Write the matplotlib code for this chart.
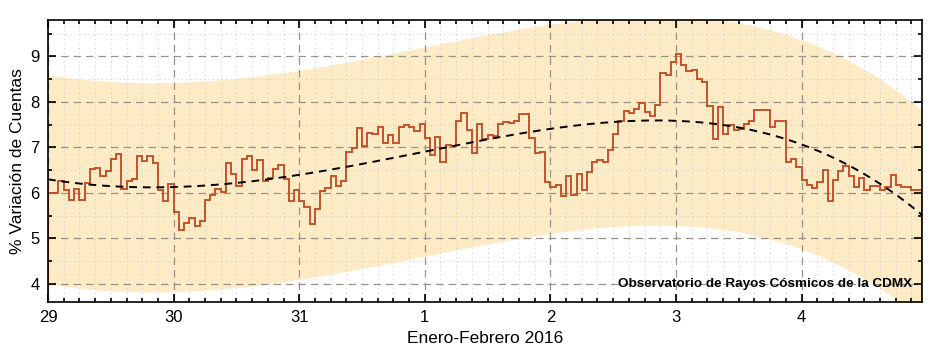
import matplotlib

matplotlib.use("Agg")
import matplotlib.pyplot as plt
import numpy as np
from matplotlib.ticker import MultipleLocator

plt.rcParams["font.family"] = ["Liberation Sans", "DejaVu Sans"]

# variacion horaria (%), desde 29 ene 00h
VARIACION = [
    6.00, 6.00, 6.25, 6.07, 5.84, 6.08, 5.84, 6.21, 6.52, 6.55, 6.36, 6.48,
    6.74, 6.85, 6.08, 6.26, 6.30, 6.82, 6.71, 6.82, 6.66, 6.06, 5.81, 6.19,
    5.57, 5.18, 5.33, 5.44, 5.28, 5.39, 5.84, 5.95, 6.08, 6.01, 6.65, 6.41,
    6.14, 6.74, 6.82, 6.50, 6.72, 6.25, 6.32, 6.52, 6.61, 6.30, 5.83, 6.06,
    5.81, 5.68, 5.31, 5.64, 6.03, 6.10, 6.38, 6.15, 6.26, 6.90, 6.98, 7.42,
    7.04, 7.31, 7.29, 7.44, 7.09, 7.27, 7.09, 7.44, 7.49, 7.45, 7.36, 7.51,
    7.21, 6.83, 7.22, 6.68, 7.05, 7.03, 7.59, 7.76, 7.38, 6.88, 7.51, 7.18,
    7.27, 7.26, 7.51, 7.56, 7.54, 7.59, 7.73, 7.73, 7.21, 6.87, 6.90, 6.23,
    6.12, 6.17, 5.93, 6.37, 5.96, 6.41, 6.06, 6.46, 6.68, 6.73, 6.68, 6.95,
    7.29, 7.58, 7.80, 7.76, 7.85, 7.98, 7.78, 7.68, 7.94, 8.64, 8.60, 8.88,
    9.06, 8.80, 8.67, 8.71, 8.51, 8.44, 7.91, 7.19, 7.89, 7.29, 7.50, 7.39,
    7.41, 7.52, 7.58, 7.82, 7.82, 7.82, 7.44, 7.58, 7.58, 6.68, 6.74, 6.57,
    6.29, 6.18, 6.11, 6.23, 6.50, 5.82, 6.29, 6.48, 6.59, 6.37, 6.13, 6.32,
    6.06, 6.15, 6.15, 6.06, 6.13, 6.39, 6.18, 6.13, 6.12, 6.06, 6.06,
]
DIAS = ["29", "30", "31", "1", "2", "3", "4"]
GRADO_AJUSTE = 4
ANCHO_BANDA = 2.3

vals = np.array(VARIACION)
edges = np.arange(len(vals) + 1) / 24.0
centros = (edges[:-1] + edges[1:]) / 2

coef = np.polyfit(centros, vals, GRADO_AJUSTE)
xs = np.linspace(0, edges[-1], 400)
ajuste = np.polyval(coef, xs)

fig = plt.figure(figsize=(9.34, 3.57), dpi=100)
ax = fig.add_axes([0.0514, 0.154, 0.9357, 0.79])

ax.fill_between(xs, ajuste - ANCHO_BANDA, ajuste + ANCHO_BANDA,
                color="#fdebc6", lw=0, zorder=1)
ax.stairs(vals, edges, color="#c4532b", lw=1.4, zorder=3)
ax.plot(xs, ajuste, color="black", ls=(0, (4, 3)), lw=1.4, zorder=4)

ax.set_xlim(0, edges[-1])
ax.set_ylim(3.6, 9.8)
ax.set_xticks(range(len(DIAS)))
ax.set_xticklabels(DIAS)
ax.xaxis.set_minor_locator(MultipleLocator(1 / 8))
ax.yaxis.set_major_locator(MultipleLocator(1))
ax.yaxis.set_minor_locator(MultipleLocator(0.5))
ax.tick_params(which="both", direction="in", top=True, right=True,
               labelsize=12, width=1.2)
ax.tick_params(which="major", length=6, pad=6)
ax.tick_params(which="minor", length=3)
ax.grid(which="major", color="#999288", ls=(0, (6, 4)), lw=0.9, zorder=2)
ax.grid(which="minor", color="#cfcfcf", ls=(0, (1, 3)), lw=0.8, zorder=2)
ax.set_axisbelow(False)
for s in ax.spines.values():
    s.set_linewidth(1.2)
    s.set_zorder(5)

ax.set_xlabel("Enero-Febrero 2016", fontsize=12.5)
ax.set_ylabel("% Variación de Cuentas", fontsize=12.5)
ax.text(0.989, 0.063, "Observatorio de Rayos Cósmicos de la CDMX",
        transform=ax.transAxes, ha="right", va="center",
        fontsize=9.7, fontweight="bold", zorder=6)

fig.savefig("out.png", dpi=100)
